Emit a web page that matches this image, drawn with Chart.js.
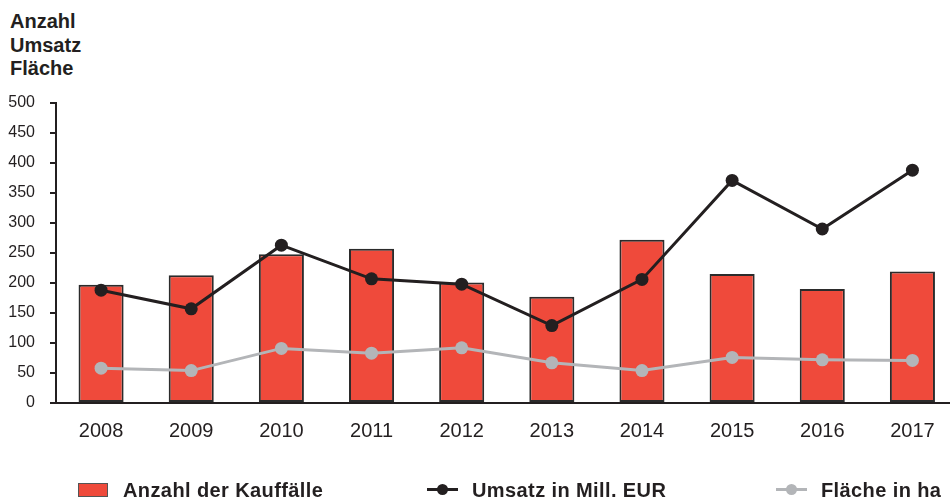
<!DOCTYPE html>
<html lang="de">
<head>
<meta charset="utf-8">
<title>Kauffälle</title>
<script src="https://cdn.jsdelivr.net/npm/chart.js@4/dist/chart.umd.min.js"></script>
<style>
    html, body { margin: 0; padding: 0; background: #fff; overflow: hidden; }
    body { width: 950px; height: 501px; position: relative; font-family: "Liberation Sans", Arial, sans-serif; color: #231f20; }
    #wrap { position: absolute; left: 0; top: 0; width: 964px; height: 501px; }
    #titel { position: absolute; left: 10px; top: 10px; font-weight: bold; font-size: 20px; line-height: 23.5px; }
    .leg { position: absolute; top: 479px; font-weight: bold; font-size: 20px; letter-spacing: 0.4px; white-space: nowrap; }
    .leg .box { position: absolute; left: 0; top: 4px; width: 28px; height: 12px; border: 1px solid #555; }
    .leg .ln { position: absolute; left: 0; top: 9px; width: 31px; height: 3px; }
    .leg .dot { position: absolute; left: 10px; top: 5px; width: 11px; height: 11px; border-radius: 50%; }
    .leg .txt { position: absolute; top: 0; }
</style>
</head>
<body>
<div id="titel">Anzahl<br>Umsatz<br>Fläche</div>
<div id="wrap"><canvas id="chart" width="964" height="501"></canvas></div>
<div id="legende"></div>

<script>
// Daten
const jahre = ["2008", "2009", "2010", "2011", "2012", "2013", "2014", "2015", "2016", "2017"];
const anzahlKauffaelle = [197, 213, 248, 257, 201, 177, 272, 215, 190, 219];
const umsatzMillEur = [188, 157, 263, 207, 198, 129, 206, 371, 290, 388];
const flaecheHa = [58, 54, 91, 83, 92, 67, 54, 76, 72, 71];
const yTicks = [0, 50, 100, 150, 200, 250, 300, 350, 400, 450, 500];

const ROT = "#ef4a3b";
const SCHWARZ = "#231f20";
const GRAU = "#b3b5b8";
const SCHRIFT = "'Liberation Sans', Arial, sans-serif";

const ctx = document.getElementById("chart");
const chart = new Chart(ctx.getContext("2d"), {
    type: "bar",
    data: {
        labels: jahre,
        datasets: [
            {
                type: "line",
                label: "Umsatz in Mill. EUR",
                data: umsatzMillEur,
                borderColor: SCHWARZ,
                backgroundColor: SCHWARZ,
                borderWidth: 3,
                pointRadius: 6.5,
                pointBorderWidth: 0,
                tension: 0,
                order: 1
            },
            {
                type: "line",
                label: "Fläche in ha",
                data: flaecheHa,
                borderColor: GRAU,
                backgroundColor: GRAU,
                borderWidth: 3,
                pointRadius: 6.5,
                pointBorderWidth: 0,
                tension: 0,
                order: 2
            },
            {
                type: "bar",
                label: "Anzahl der Kauffälle",
                data: anzahlKauffaelle,
                backgroundColor: ROT,
                borderColor: "#2b2b2b",
                borderWidth: 2,
                borderSkipped: false,
                barPercentage: 0.5,
                categoryPercentage: 1,
                order: 3
            }
        ]
    },
    options: {
        responsive: false,
        animation: false,
        layout: { padding: { top: 103, left: 0, right: 0, bottom: 0 } },
        plugins: {
            legend: { display: false },
            tooltip: { enabled: false }
        },
        scales: {
            x: {
                grid: { display: false },
                border: { display: true, color: SCHWARZ, width: 2 },
                ticks: { color: SCHWARZ, font: { family: SCHRIFT, size: 20 }, padding: 8, maxRotation: 0 },
                afterFit: (s) => { s.height = 98; }
            },
            y: {
                min: 0,
                max: 500,
                afterBuildTicks: (s) => { s.ticks = yTicks.map(v => ({ value: v })); },
                grid: { drawOnChartArea: false, drawTicks: true, tickLength: 6, color: SCHWARZ, lineWidth: 2 },
                border: { display: true, color: SCHWARZ, width: 2 },
                ticks: { color: SCHWARZ, font: { family: SCHRIFT, size: 16 }, padding: 15 },
                afterFit: (s) => { s.width = 56; }
            }
        }
    }
});

// Legende als HTML, aus den Datensätzen gebaut
const legende = document.getElementById("legende");
const legPos = { "Anzahl der Kauffälle": 78, "Umsatz in Mill. EUR": 427, "Fläche in ha": 776 };
const reihenfolge = [2, 0, 1];
reihenfolge.forEach(i => {
    const ds = chart.data.datasets[i];
    const el = document.createElement("div");
    el.className = "leg";
    el.style.left = legPos[ds.label] + "px";
    let marker;
    if (ds.type === "bar") {
        marker = `<span class="box" style="background:${ds.backgroundColor}"></span>`;
    } else {
        marker = `<span class="ln" style="background:${ds.borderColor}"></span>` +
                 `<span class="dot" style="background:${ds.borderColor}"></span>`;
    }
    el.innerHTML = marker + `<span class="txt" style="left:45px">${ds.label}</span>`;
    legende.appendChild(el);
});
</script>
</body>
</html>
